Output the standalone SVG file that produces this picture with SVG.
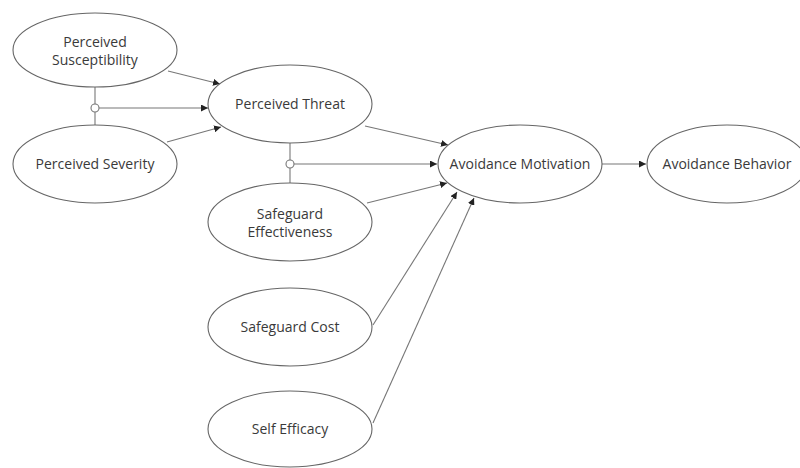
<svg xmlns="http://www.w3.org/2000/svg" width="800" height="468" viewBox="0 0 800 468">
<defs>
<marker id="arr" viewBox="0 0 10 10" refX="10" refY="5" markerWidth="7" markerHeight="7" markerUnits="userSpaceOnUse" orient="auto">
<path d="M0,0 L10,5 L0,10 z" fill="#222"/>
</marker>
</defs>
<style>
.node ellipse{fill:#fff;stroke:#666;stroke-width:1.1}
.node text{font-family:"Open Sans","Liberation Sans",sans-serif;font-size:14px;fill:#3a3a3a;text-anchor:middle}
#connectors line{stroke:#777;stroke-width:1.1;fill:none}
#connectors .a{marker-end:url(#arr)}
#connectors circle{fill:#fff;stroke:#777;stroke-width:1.1}
</style>
<rect width="800" height="468" fill="#fff"/>
<g id="connectors">
<line x1="95" y1="87" x2="95" y2="125"/>
<line class="a" x1="168" y1="71" x2="220" y2="84"/>
<line class="a" x1="99" y1="108" x2="208" y2="108"/>
<line class="a" x1="167" y1="142" x2="221" y2="127"/>
<line class="a" x1="365" y1="126" x2="448" y2="145"/>
<line x1="290" y1="143" x2="290" y2="183"/>
<line class="a" x1="294" y1="164" x2="437" y2="164"/>
<line class="a" x1="367" y1="203" x2="447" y2="183"/>
<line class="a" x1="373" y1="325" x2="457" y2="192"/>
<line class="a" x1="373" y1="423" x2="474" y2="198"/>
<line class="a" x1="602" y1="164" x2="646" y2="164"/>
<circle cx="95" cy="108" r="4"/>
<circle cx="290" cy="164" r="4"/>
</g>
<g id="perceived-susceptibility" class="node">
<ellipse cx="95" cy="50" rx="82" ry="37"/>
<text x="95" y="47">Perceived</text>
<text x="95" y="65">Susceptibility</text>
</g>
<g id="perceived-severity" class="node">
<ellipse cx="95" cy="164" rx="82" ry="39"/>
<text x="95" y="169">Perceived Severity</text>
</g>
<g id="perceived-threat" class="node">
<ellipse cx="290" cy="104" rx="82" ry="39"/>
<text x="290" y="109">Perceived Threat</text>
</g>
<g id="safeguard-effectiveness" class="node">
<ellipse cx="290" cy="222" rx="82" ry="39"/>
<text x="290" y="219">Safeguard</text>
<text x="290" y="237">Effectiveness</text>
</g>
<g id="safeguard-cost" class="node">
<ellipse cx="290" cy="327" rx="82" ry="39"/>
<text x="290" y="332">Safeguard Cost</text>
</g>
<g id="self-efficacy" class="node">
<ellipse cx="290" cy="429" rx="82" ry="38"/>
<text x="290" y="434">Self Efficacy</text>
</g>
<g id="avoidance-motivation" class="node">
<ellipse cx="520" cy="164" rx="82" ry="39"/>
<text x="520" y="169">Avoidance Motivation</text>
</g>
<g id="avoidance-behavior" class="node">
<ellipse cx="727" cy="164" rx="80" ry="39"/>
<text x="727" y="169">Avoidance Behavior</text>
</g>
</svg>
